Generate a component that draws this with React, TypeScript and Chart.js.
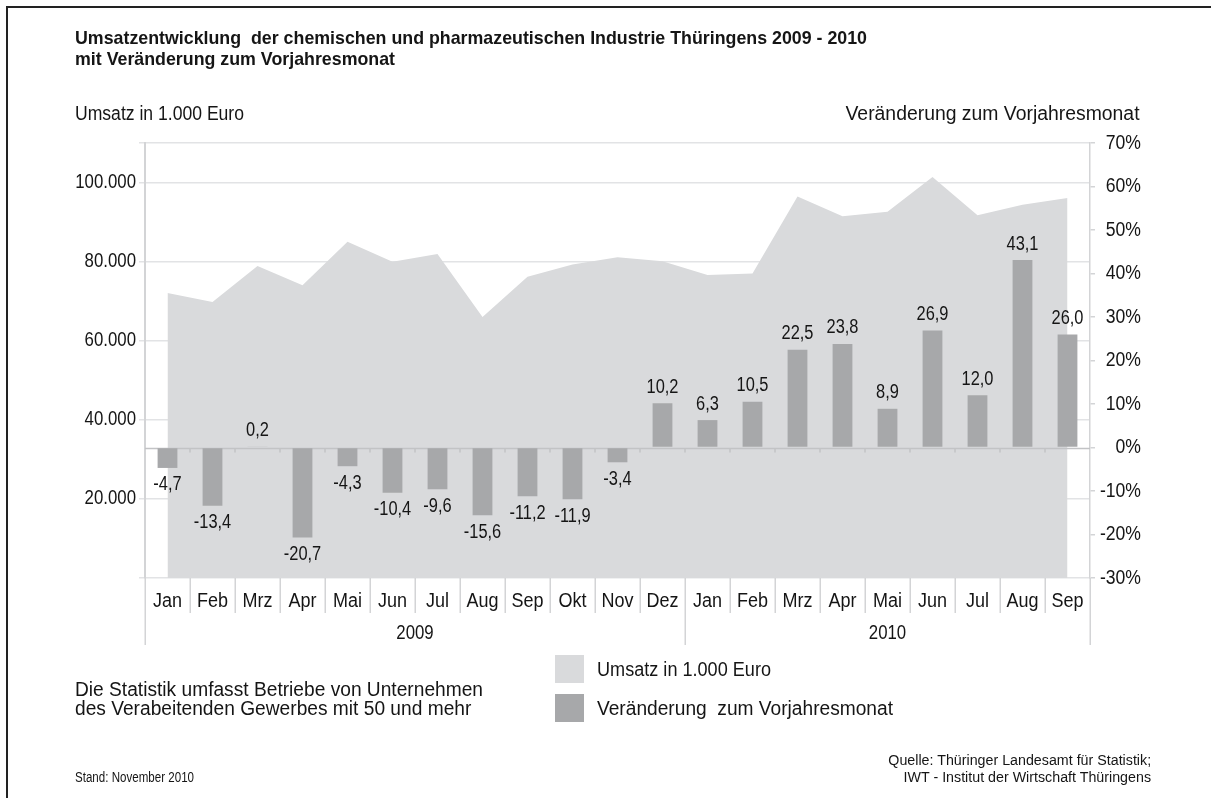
import React, { useEffect, useRef } from "react";
import { Chart, registerables } from "chart.js";

Chart.register(...registerables);

const FONT = '"Liberation Sans", Arial, sans-serif';

const months = ["Jan", "Feb", "Mrz", "Apr", "Mai", "Jun", "Jul", "Aug", "Sep", "Okt", "Nov", "Dez", "Jan", "Feb", "Mrz", "Apr", "Mai", "Jun", "Jul", "Aug", "Sep"];
const years = ["2009", "2010"];
const monthsPerYear = [12, 9];
const umsatz = [72100, 69800, 78900, 74000, 85000, 80000, 81900, 66000, 76200, 79300, 81100, 80100, 76600, 77000, 96500, 91500, 92600, 101400, 91700, 94400, 96100];
const veraenderung = [-4.7, -13.4, 0.2, -20.7, -4.3, -10.4, -9.6, -15.6, -11.2, -11.9, -3.4, 10.2, 6.3, 10.5, 22.5, 23.8, 8.9, 26.9, 12.0, 43.1, 26.0];
const leftTickLabels = [20000, 40000, 60000, 80000, 100000];
const rightTicks = [-30, -20, -10, 0, 10, 20, 30, 40, 50, 60, 70];

const AREA_COLOR = "#d9dadc";
const BAR_COLOR = "#a7a8aa";
const LINE_COLOR = "#d3d4d6";
const TEXT = "#151515";

const fmtComma = (v: number) => v.toFixed(1).replace(".", ",");
const fmtThousand = (v: number) => `${Math.round(v / 1000)}.000`;

function drawText(ctx: CanvasRenderingContext2D, text: string, x: number, y: number, align: CanvasTextAlign, sx: number, size: number) {
  ctx.save();
  ctx.font = `${size}px ${FONT}`;
  ctx.fillStyle = TEXT;
  ctx.textAlign = align;
  ctx.textBaseline = "middle";
  ctx.translate(x, y);
  ctx.scale(sx, 1);
  ctx.fillText(text, 0, 0);
  ctx.restore();
}

const customPlugin = {
  id: "custom",
  afterDatasetDraw(chart: any, args: any) {
    if (args.index !== 1) return;
    const { ctx, chartArea } = chart;
    const y1 = chart.scales.y1;
    const x = chart.scales.x;
    const y0 = Math.round(y1.getPixelForValue(0)) + 0.5;
    ctx.save();
    ctx.strokeStyle = "#c2c3c5";
    ctx.lineWidth = 1.5;
    ctx.beginPath();
    ctx.moveTo(chartArea.left, y0);
    ctx.lineTo(chartArea.right, y0);
    const n = months.length;
    const w = (chartArea.right - chartArea.left) / n;
    for (let i = 1; i < n; i++) {
      const bx = x.getPixelForValue(i) - w / 2;
      ctx.moveTo(bx, y0);
      ctx.lineTo(bx, y0 + 4);
    }
    ctx.stroke();
    ctx.restore();
  },
  afterDatasetsDraw(chart: any) {
    const { ctx } = chart;
    const meta = chart.getDatasetMeta(0);
    meta.data.forEach((bar: any, i: number) => {
      const v = veraenderung[i];
      const y = v >= 0 ? bar.y - 16 : bar.y + 17;
      drawText(ctx, fmtComma(v), bar.x, y, "center", 0.82, 20);
    });
  },
  afterDraw(chart: any) {
    const { ctx, chartArea } = chart;
    const x = chart.scales.x;
    const yL = chart.scales.y;
    const yR = chart.scales.y1;
    const n = months.length;
    const w = (chartArea.right - chartArea.left) / n;
    const bottom = chartArea.bottom;
    ctx.save();
    ctx.strokeStyle = LINE_COLOR;
    ctx.lineWidth = 1.5;
    const yearStarts: number[] = [0];
    monthsPerYear.reduce((acc, c) => {
      yearStarts.push(acc + c);
      return acc + c;
    }, 0);
    ctx.beginPath();
    for (let i = 0; i <= n; i++) {
      const bx = Math.round(chartArea.left + i * w) + 0.25;
      const isYear = yearStarts.includes(i);
      ctx.moveTo(bx, bottom);
      ctx.lineTo(bx, isYear ? bottom + 67 : bottom + 35);
    }
    ctx.stroke();
    ctx.restore();
    months.forEach((m, i) => {
      drawText(ctx, m, x.getPixelForValue(i), bottom + 23, "center", 0.9, 20);
    });
    years.forEach((yr, k) => {
      const a = chartArea.left + yearStarts[k] * w;
      const b = chartArea.left + yearStarts[k + 1] * w;
      drawText(ctx, yr, (a + b) / 2, bottom + 55, "center", 0.84, 20);
    });
    leftTickLabels.forEach((v) => {
      drawText(ctx, fmtThousand(v), chartArea.left - 9, yL.getPixelForValue(v), "right", 0.84, 20);
    });
    rightTicks.forEach((v) => {
      drawText(ctx, `${v}%`, 1141, yR.getPixelForValue(v), "right", 0.88, 20);
    });
  },
};

function ChartCanvas() {
  const ref = useRef<HTMLCanvasElement | null>(null);
  useEffect(() => {
    if (!ref.current) return;
    const chart = new Chart(ref.current, {
      type: "bar",
      data: {
        labels: months,
        datasets: [
          {
            type: "bar",
            label: "Veränderung zum Vorjahresmonat",
            data: veraenderung,
            yAxisID: "y1",
            backgroundColor: BAR_COLOR,
            barPercentage: 0.44,
            categoryPercentage: 1,
            order: 0,
          } as any,
          {
            type: "line",
            label: "Umsatz in 1.000 Euro",
            data: umsatz,
            yAxisID: "y",
            backgroundColor: AREA_COLOR,
            borderWidth: 0,
            borderColor: AREA_COLOR,
            pointRadius: 0,
            fill: "start",
            tension: 0,
            order: 1,
          } as any,
        ],
      },
      options: {
        animation: false,
        responsive: false,
        maintainAspectRatio: false,
        devicePixelRatio: 1,
        layout: { padding: { left: 0, top: 143, right: 68, bottom: 220 } },
        plugins: { legend: { display: false }, tooltip: { enabled: false } },
        scales: {
          x: { type: "category", display: false, offset: true },
          y: {
            type: "linear",
            position: "left",
            min: 0,
            max: 110000,
            afterFit: (s: any) => {
              s.width = 145;
            },
            afterBuildTicks: (s: any) => {
              s.ticks = [0, ...leftTickLabels, 110000].map((v) => ({ value: v }));
            },
            ticks: { display: false },
            grid: { color: "#e2e3e5", lineWidth: 1.5, tickLength: 6, drawOnChartArea: true },
            border: { display: true, color: LINE_COLOR, width: 2 },
          },
          y1: {
            type: "linear",
            position: "right",
            min: -30,
            max: 70,
            afterFit: (s: any) => {
              s.width = 53;
            },
            afterBuildTicks: (s: any) => {
              s.ticks = rightTicks.map((v) => ({ value: v }));
            },
            ticks: { display: false },
            grid: { drawOnChartArea: false, color: LINE_COLOR, lineWidth: 1.5, tickLength: 5 },
            border: { display: true, color: LINE_COLOR, width: 1.5 },
          },
        },
      } as any,
      plugins: [customPlugin],
    });
    return () => chart.destroy();
  }, []);
  return <canvas ref={ref} width={1211} height={798} style={{ position: "absolute", left: 0, top: 0, width: 1211, height: 798 }} />;
}

let measureCtx: CanvasRenderingContext2D | null = null;
function measure(text: string, size: number, bold: boolean) {
  if (!measureCtx) measureCtx = document.createElement("canvas").getContext("2d");
  measureCtx!.font = `${bold ? "bold " : ""}${size}px ${FONT}`;
  return measureCtx!.measureText(text).width;
}

type LineProps = {
  text: string;
  x: number;
  cy: number;
  size: number;
  width?: number;
  sx?: number;
  bold?: boolean;
  alignRight?: boolean;
};

function Line({ text, x, cy, size, width, sx, bold = false, alignRight = false }: LineProps) {
  const scale = sx !== undefined ? sx : (width as number) / measure(text, size, bold);
  const lh = Math.round(size * 1.2);
  const style: React.CSSProperties = {
    position: "absolute",
    top: cy - lh / 2,
    fontFamily: FONT,
    fontSize: size,
    fontWeight: bold ? "bold" : "normal",
    lineHeight: `${lh}px`,
    color: TEXT,
    whiteSpace: "pre",
    transform: `scaleX(${scale})`,
    transformOrigin: alignRight ? "right center" : "left center",
  };
  if (alignRight) style.right = 1211 - x;
  else style.left = x;
  return <div style={style}>{text}</div>;
}

const title1 = "Umsatzentwicklung  der chemischen und pharmazeutischen Industrie Thüringens 2009 - 2010";
const title2 = "mit Veränderung zum Vorjahresmonat";
const note1 = "Die Statistik umfasst Betriebe von Unternehmen";
const note2 = "des Verabeitenden Gewerbes mit 50 und mehr";
const src1 = "Quelle: Thüringer Landesamt für Statistik;";
const src2 = "IWT - Institut der Wirtschaft Thüringens";

export default function App() {
  const titleSx = 792 / measure(title1, 19, true);
  const noteSx = 408 / measure(note1, 20, false);
  const srcSx = 263 / measure(src1, 14, false);
  return (
    <div style={{ position: "absolute", left: 0, top: 0, width: 1211, height: 798, background: "#fff", overflow: "hidden" }}>
      <div style={{ position: "absolute", left: 6, top: 6, width: 1211, height: 800, borderTop: "2px solid #222", borderLeft: "2px solid #222" }} />
      <ChartCanvas />
      <Line text={title1} x={75} cy={37} size={19} bold sx={titleSx} />
      <Line text={title2} x={75} cy={58} size={19} bold sx={titleSx} />
      <Line text="Umsatz in 1.000 Euro" x={75} cy={113} size={20} width={169} />
      <Line text="Veränderung zum Vorjahresmonat" x={1140} cy={113} size={20} width={294} alignRight />
      <Line text={note1} x={75} cy={689} size={20} sx={noteSx} />
      <Line text={note2} x={75} cy={708} size={20} sx={noteSx} />
      <div style={{ position: "absolute", left: 555, top: 655, width: 29, height: 28, background: AREA_COLOR }} />
      <div style={{ position: "absolute", left: 555, top: 694, width: 29, height: 28, background: BAR_COLOR }} />
      <Line text="Umsatz in 1.000 Euro" x={597} cy={669} size={20} width={174} />
      <Line text="Veränderung  zum Vorjahresmonat" x={597} cy={708} size={20} width={296} />
      <Line text="Stand: November 2010" x={75} cy={777} size={14} width={119} />
      <Line text={src1} x={1151} cy={760} size={14} sx={srcSx} alignRight />
      <Line text={src2} x={1151} cy={777} size={14} sx={srcSx} alignRight />
    </div>
  );
}
